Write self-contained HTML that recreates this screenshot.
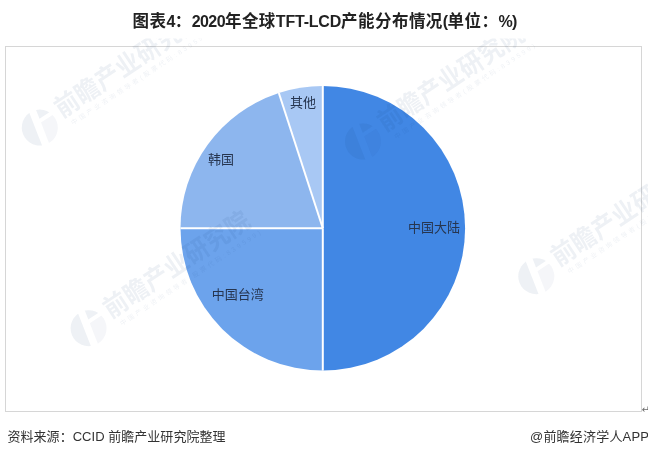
<!DOCTYPE html>
<html lang="zh-CN">
<head>
<meta charset="utf-8">
<title>图表4：2020年全球TFT-LCD产能分布情况(单位：%)</title>
<style>
html,body{margin:0;padding:0;background:#fff;}
body{width:648px;height:457px;overflow:hidden;position:relative;font-family:"Liberation Sans","Noto Sans CJK SC",sans-serif;}
svg{position:absolute;left:0;top:0;display:block;}
text{font-family:"Liberation Sans","Noto Sans CJK SC",sans-serif;}
.title{font-size:16.5px;font-weight:bold;fill:#222;letter-spacing:0.45px;}
.tl{font-size:16px;letter-spacing:-0.6px;}
.lbl{font-size:13px;fill:#26354f;}
.foot{font-size:13px;fill:#333;}
.wmt{font-size:24px;font-weight:700;letter-spacing:0.3px;}
.wms{font-size:6.5px;letter-spacing:2.6px;}
</style>
</head>
<body>
<svg width="648" height="457" viewBox="0 0 648 457">
<defs>
<clipPath id="logoclip"><circle cx="0" cy="0" r="18"/></clipPath>
<clipPath id="chartclip"><rect x="0" y="38.5" width="648" height="419"/></clipPath>
<g id="wm" fill="#143278" fill-opacity="0.07">
  <g clip-path="url(#logoclip)"><path d="M-20 -20L-0.2 -20L-8.8 20L-20 20Z M7.3 -20L20 -20L20 -7.5L4.6 -7.5Z"/><path d="M3.76 -3.5L20 -3.5L20 20L-1.3 20Z" fill-opacity="0.045"/></g>
  <g transform="translate(23.5 4.5) scale(1 1.08)"><text class="wmt" x="0" y="0">前瞻产业研究院</text></g>
  <text class="wms" x="29" y="16.5">中国产业咨询领导者(股票代码:839599)</text>
</g>
</defs>
<rect x="0" y="0" width="648" height="457" fill="#fff"/>
<rect x="5.5" y="46.5" width="636" height="365" fill="#fff" stroke="#d6d6d6" stroke-width="1"/>
<g>
<path d="M322.8 228.3L322.80 86.00A142.3 142.3 0 0 1 322.80 370.60Z" fill="#4187E4"/>
<path d="M322.8 228.3L322.80 370.60A142.3 142.3 0 0 1 180.50 228.30Z" fill="#6CA3EC"/>
<path d="M322.8 228.3L180.50 228.30A142.3 142.3 0 0 1 278.83 92.96Z" fill="#8DB6EE"/>
<path d="M322.8 228.3L278.83 92.96A142.3 142.3 0 0 1 322.80 86.00Z" fill="#A8C8F4"/>
</g>
<g stroke="#fff" stroke-width="2" stroke-linecap="butt">
<line x1="322.8" y1="228.3" x2="322.80" y2="86.00"/>
<line x1="322.8" y1="228.3" x2="322.80" y2="370.60"/>
<line x1="322.8" y1="228.3" x2="180.50" y2="228.30"/>
<line x1="322.8" y1="228.3" x2="278.83" y2="92.96"/>
</g>
<g clip-path="url(#chartclip)">
<use href="#wm" transform="translate(39.8 127.6) rotate(-33.5)"/>
<use href="#wm" transform="translate(363 141.5) rotate(-33.5)"/>
<use href="#wm" transform="translate(88.6 328.2) rotate(-33.5)"/>
<use href="#wm" transform="translate(536.3 276.2) rotate(-33.5)"/>
</g>
<text class="lbl" x="290" y="107">其他</text>
<text class="lbl" x="208" y="164">韩国</text>
<text class="lbl" x="408" y="231.5">中国大陆</text>
<text class="lbl" x="211.8" y="299">中国台湾</text>
<text class="title" x="132.6" y="27">图表<tspan class="tl">4</tspan>：<tspan class="tl">2020</tspan>年全球<tspan class="tl" style="letter-spacing:-0.2px">TFT-LCD</tspan>产能分布情况<tspan class="tl">(</tspan>单位：<tspan class="tl">%)</tspan></text>
<text class="foot" x="7.5" y="441" textLength="218" lengthAdjust="spacing">资料来源：CCID 前瞻产业研究院整理</text>
<text class="foot" x="530" y="441" textLength="119" lengthAdjust="spacing">@前瞻经济学人APP</text>
<text x="641.5" y="413.3" font-size="10" fill="#6a6a6a" style="font-family:'DejaVu Sans',sans-serif">↵</text>
</svg>
</body>
</html>
